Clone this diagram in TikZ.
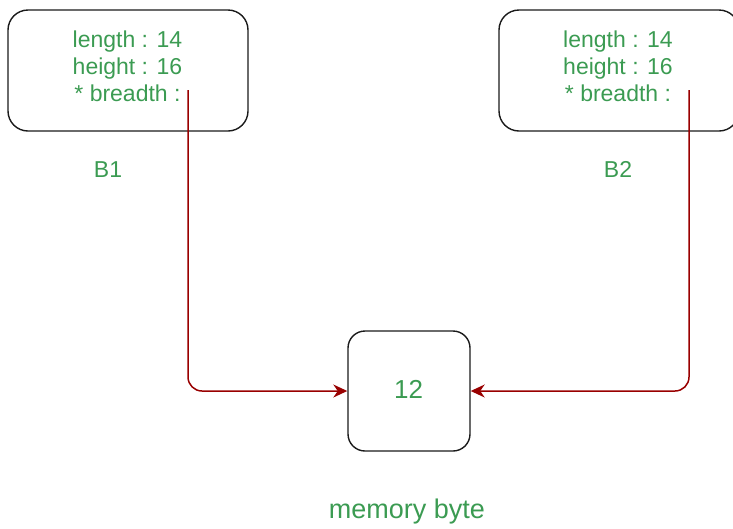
\documentclass[tikz,border=0pt]{standalone}
\usepackage{fontspec}
\setmainfont{Liberation Sans}
\usetikzlibrary{arrows.meta}
\definecolor{txtgreen}{HTML}{3B9B52}
\definecolor{linkred}{HTML}{990000}
\definecolor{boxline}{HTML}{1A1A1A}
\begin{document}
\begin{tikzpicture}[x=1pt,y=-1pt,
  card/.style={draw=boxline, line width=1.4pt, rounded corners=20pt, minimum width=240pt, minimum height=121pt, inner sep=0pt},
  cell/.style={draw=boxline, line width=1.4pt, rounded corners=17pt, minimum width=122pt, minimum height=120pt, inner sep=0pt},
  lbl/.style={text=txtgreen, font=\fontsize{23}{27}\selectfont, inner sep=0pt, align=center},
  link/.style={draw=linkred, line width=1.5pt, rounded corners=14pt, -{Stealth[length=14pt,width=13pt,inset=4.5pt]}}
]
\useasboundingbox (0,0) rectangle (733,528);
\node[card] (b1) at (128,70.5) {};
\node[card] (b2) at (619,70.5) {};
\node[cell] (mem) at (409,391) {};
\node[lbl, anchor=north] (t1) at (127.5,31) {length : 14\\height : 16\\* breadth :};
\node[lbl, anchor=north] (t2) at (618,31) {length : 14\\height : 16\\* breadth :};
\node[lbl, anchor=base] (n1) at (108,177) {B1};
\node[lbl, anchor=base] (n2) at (618,177) {B2};
\node[lbl, anchor=base, font=\fontsize{26}{30}\selectfont] (v) at (408.5,398) {12};
\node[lbl, anchor=base, font=\fontsize{27}{32}\selectfont] (m) at (407,518) {memory byte};
\coordinate (s1) at (188,90);
\coordinate (s2) at (689,90);
\draw[link] (s1) |- (mem.west);
\draw[link] (s2) |- (mem.east);
\end{tikzpicture}
\end{document}
